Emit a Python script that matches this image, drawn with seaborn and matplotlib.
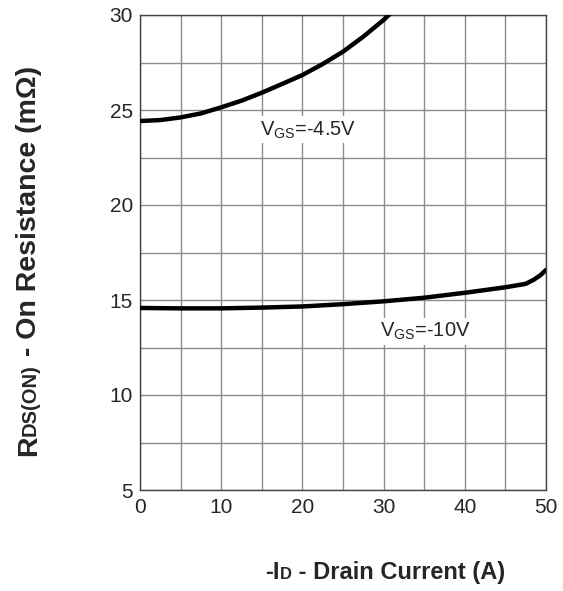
#!/usr/bin/env python3

import pandas as pd
import numpy as np
import matplotlib.pyplot as plt
import seaborn as sns

# values
id_45 = [0, 2.5, 5, 7.5, 10, 12.5, 15, 17.5, 20, 22.5, 25, 27.5, 30, 31]
rds_45 = [24.42, 24.47, 24.61, 24.82, 25.14, 25.49, 25.91, 26.37, 26.84, 27.42, 28.07, 28.86, 29.74, 30.15]

id_10 = [0, 5, 10, 15, 20, 25, 30, 35, 40, 45, 47.5, 48.5, 49.3, 50]
rds_10 = [14.58, 14.56, 14.56, 14.6, 14.66, 14.78, 14.93, 15.12, 15.38, 15.67, 15.85, 16.07, 16.3, 16.58]

x_ticks = [0, 10, 20, 30, 40, 50]
y_ticks = [5, 10, 15, 20, 25, 30]

sns.set_style('white')
plt.rcParams['font.family'] = ['Liberation Sans', 'DejaVu Sans']
plt.rcParams['mathtext.fontset'] = 'custom'
plt.rcParams['mathtext.rm'] = 'Liberation Sans'
plt.rcParams['mathtext.it'] = 'Liberation Sans'
plt.rcParams['mathtext.bf'] = 'Liberation Sans:bold'

df = pd.concat([
    pd.DataFrame({'id': id_45, 'rds': rds_45, 'vgs': '-4.5V'}),
    pd.DataFrame({'id': id_10, 'rds': rds_10, 'vgs': '-10V'}),
])

W, H = 563, 591
fig = plt.figure(figsize=(W / 100, H / 100), dpi=100)
ax = fig.add_axes([140 / W, 1 - 490 / H, 406 / W, 475 / H])

sns.lineplot(data=df, x='id', y='rds', hue='vgs', palette={'-4.5V': 'black', '-10V': 'black'},
             linewidth=3.2, legend=False, ax=ax, zorder=3)

ax.set_xlim(0, 50)
ax.set_ylim(5, 30)
ax.set_xticks(x_ticks)
ax.set_yticks(y_ticks)
ax.set_xticks(np.arange(0, 51, 5), minor=True)
ax.set_yticks(np.arange(5, 30.1, 2.5), minor=True)
ax.grid(which='both', color='#8c8c8c', linewidth=1)
ax.tick_params(which='both', length=0, labelsize=15)
ax.tick_params(axis='x', pad=6)
ax.tick_params(axis='y', pad=5)
for s in ax.spines.values():
    s.set_color('#444444')
    s.set_linewidth(1)

ax.set_xlabel('')
ax.set_ylabel('')

ax.text(20.7, 23.95, 'V$_{GS}$=-4.5V', fontsize=14.5, ha='center', va='center', zorder=4,
        bbox=dict(facecolor='white', edgecolor='none', pad=2))
ax.text(35.2, 13.35, 'V$_{GS}$=-10V', fontsize=14.5, ha='center', va='center', zorder=4,
        bbox=dict(facecolor='white', edgecolor='none', pad=2))


def label_parts(parts, cx, cy, vertical=False):
    # lay out text runs of mixed size along one baseline, centred on (cx, cy) in pixels
    renderer = fig.canvas.get_renderer()
    texts = []
    for s, size in parts:
        t = fig.text(0, 0, s, fontsize=size, fontweight='bold', ha='left', va='baseline',
                     rotation=90 if vertical else 0, rotation_mode='anchor', transform=None)
        texts.append(t)
    lengths = []
    for t in texts:
        bb = t.get_window_extent(renderer)
        lengths.append(bb.height if vertical else bb.width)
    total = sum(lengths)
    pos = -total / 2
    for t, ln in zip(texts, lengths):
        if vertical:
            t.set_position((cx, (H - cy) + pos))
        else:
            t.set_position((cx + pos, (H - cy)))
        pos += ln


label_parts([('-I', 17), ('D', 12), (' - Drain Current (A)', 17)], 385, 579)
label_parts([('R', 20.5), ('DS(ON)', 14.5), (' - On Resistance (m\u03a9)', 20.5)], 36, 261, vertical=True)

fig.savefig('out.png', dpi=100)
